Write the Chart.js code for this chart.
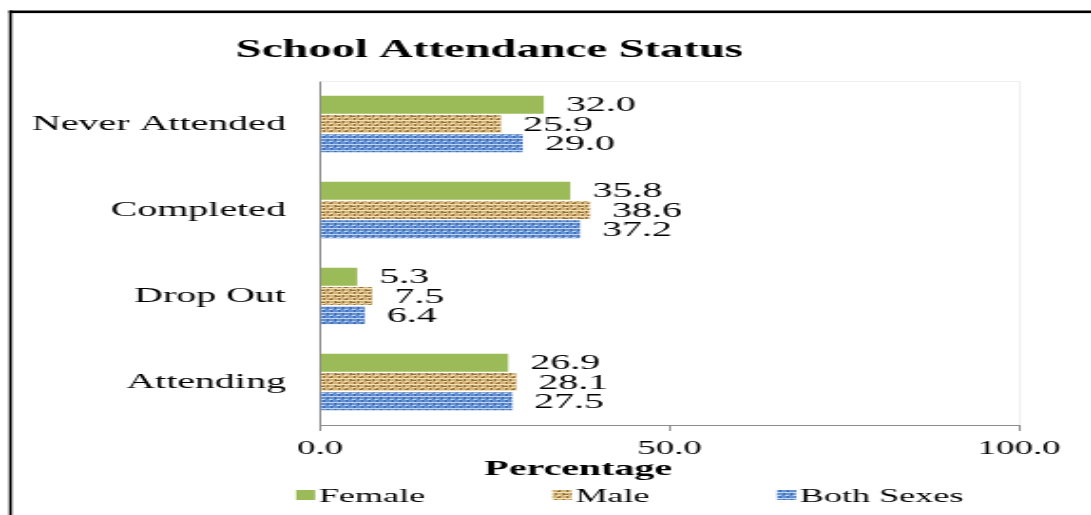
<!DOCTYPE html>
<html>
<head>
<meta charset="utf-8">
<script src="https://cdn.jsdelivr.net/npm/chart.js@4.4.1/dist/chart.umd.min.js"></script>
<style>
  html, body { margin: 0; padding: 0; background: #fff; overflow: hidden; }
  /* the original picture is stretched sideways, so the chart is drawn narrow and widened */
  #wrap { width: 574px; height: 515px; transform: scaleX(1.9007); transform-origin: 0 0; }
</style>
</head>
<body>
<div id="wrap"><canvas id="myChart"></canvas></div>
<script>
const categories = ['Never Attended', 'Completed', 'Drop Out', 'Attending'];
const female = [32.0, 35.8, 5.3, 26.9];
const male = [25.9, 38.6, 7.5, 28.1];
const bothSexes = [29.0, 37.2, 6.4, 27.5];
const seriesNames = ['Female', 'Male', 'Both Sexes'];
const xTicks = [0, 50, 100];

const serif = "'Liberation Serif', 'Times New Roman', serif";

// small woven textures like the old office fills
function texture(base, dark, light, w){
  var c = document.createElement('canvas');
  c.width = 8; c.height = 6;
  var g = c.getContext('2d');
  g.fillStyle = base; g.fillRect(0, 0, 8, 6);
  g.fillStyle = light;
  g.fillRect(0, 0, 8, 1);
  g.fillRect(1, 3, 2, 1); g.fillRect(5, 3, 2, 1);
  g.fillStyle = dark;
  g.fillRect(0, 1, 1, 2); g.fillRect(4, 1, 1, 2);
  g.fillRect(2, 4, 1, 2); g.fillRect(6, 4, 1, 2);
  if (w) { g.fillRect(1, 2, 2, 1); g.fillRect(5, 5, 2, 1); }
  return g.createPattern(c, 'repeat');
}
var ctx = document.getElementById('myChart').getContext('2d');
var malePattern = texture('#d3b47b', '#96703c', '#f2e1b3', true);
var bothPattern = texture('#6492d4', '#3d68b0', '#bed4f2', false);

const frameAndText = {
  id: 'frameAndText',
  afterDraw(chart){
    var c = chart.ctx, a = chart.chartArea;
    c.save();
    // faint plot frame (top and right)
    c.strokeStyle = '#f0f0f0';
    c.lineWidth = 1;
    c.beginPath();
    c.moveTo(a.left, a.top + 0.5); c.lineTo(a.right + 0.5, a.top + 0.5); c.lineTo(a.right + 0.5, a.bottom);
    c.stroke();
    // outer black frame, cut at right and bottom
    c.fillStyle = '#000';
    c.fillRect(4.7, 10.5, 1.6, chart.height);
    c.fillRect(4.7, 10.5, chart.width, 2.6);
    // title
    c.textAlign = 'center';
    c.textBaseline = 'middle';
    c.font = 'bold 24.5px ' + serif;
    c.fillText('School Attendance Status', 257.4, 51);
    // axis title
    c.font = 'bold 21px ' + serif;
    c.fillText('Percentage', 304.2, 470);
    // legend, clipped like the source
    c.beginPath(); c.rect(0, 0, chart.width, 502); c.clip();
    c.textAlign = 'left';
    c.font = '19px ' + serif;
    var x = 155.8;
    chart.data.datasets.forEach(function(ds){
      c.fillStyle = ds.backgroundColor;
      c.fillRect(x, 490, 10, 10);
      c.fillStyle = '#000';
      c.fillText(ds.label, x + 12, 497);
      x += 12 + c.measureText(ds.label).width + 67;
    });
    c.restore();
  },
  afterDatasetsDraw(chart){
    var c = chart.ctx;
    c.save();
    c.fillStyle = '#000';
    c.font = '21px ' + serif;
    c.textAlign = 'left';
    c.textBaseline = 'middle';
    chart.data.datasets.forEach(function(ds, i){
      chart.getDatasetMeta(i).data.forEach(function(bar, j){
        c.fillText(ds.data[j].toFixed(1), bar.x + 11.6, bar.y + 1);
      });
    });
    c.restore();
  }
};

window.myChart = new Chart(ctx, {
  type: 'bar',
  data: {
    labels: categories,
    datasets: [
      { label: seriesNames[0], data: female, backgroundColor: '#9bbb59' },
      { label: seriesNames[1], data: male, backgroundColor: malePattern },
      { label: seriesNames[2], data: bothSexes, backgroundColor: bothPattern }
    ]
  },
  options: {
    indexAxis: 'y',
    responsive: true,
    maintainAspectRatio: false,
    animation: false,
    datasets: { bar: { categoryPercentage: 0.67, barPercentage: 0.94, borderWidth: 0 } },
    layout: { padding: { top: 81, right: 37.9, left: 0, bottom: 0 } },
    plugins: { legend: { display: false }, title: { display: false }, tooltip: { enabled: false } },
    scales: {
      x: {
        min: 0, max: 100,
        afterBuildTicks: function(axis){ axis.ticks = xTicks.map(function(v){ return { value: v }; }); },
        afterFit: function(axis){ axis.height = 90; },
        grid: {
          color: function(c){ return c.tick && c.tick.value === 100 ? '#eeeeee' : 'rgba(0,0,0,0)'; },
          tickColor: '#8c8c8c', tickLength: 6
        },
        border: { color: '#8c8c8c' },
        ticks: {
          color: '#000', padding: 6, maxRotation: 0,
          font: { family: serif, size: 19.5 },
          callback: function(v){ return Number(v).toFixed(1); }
        }
      },
      y: {
        afterFit: function(axis){ axis.width = 168.4; },
        grid: { display: false },
        border: { color: '#8c8c8c' },
        ticks: { color: '#000', padding: 10, font: { family: serif, size: 21 } }
      }
    }
  },
  plugins: [frameAndText]
});
</script>
</body>
</html>
